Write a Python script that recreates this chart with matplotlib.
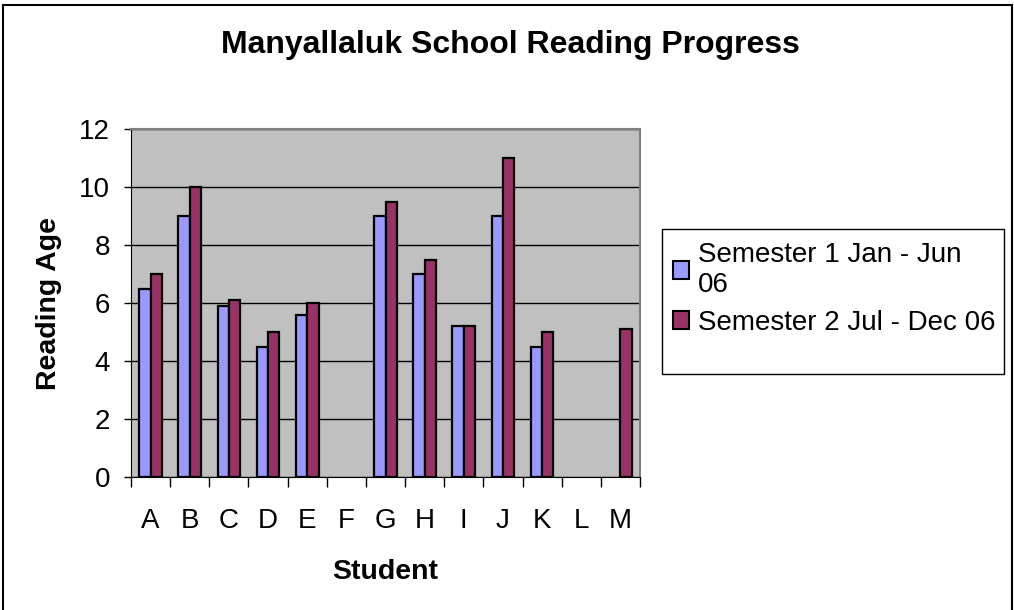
import numpy as np
import matplotlib
matplotlib.use('Agg')
import matplotlib.pyplot as plt
import matplotlib.patches as mpatches

plt.rcParams['font.family'] = ['Liberation Sans', 'DejaVu Sans']

# data
students = ['A', 'B', 'C', 'D', 'E', 'F', 'G', 'H', 'I', 'J', 'K', 'L', 'M']
sem1 = [6.5, 9.0, 5.9, 4.5, 5.6, np.nan, 9.0, 7.0, 5.2, 9.0, 4.5, np.nan, np.nan]
sem2 = [7.0, 10.0, 6.1, 5.0, 6.0, np.nan, 9.5, 7.5, 5.2, 11.0, 5.0, np.nan, 5.1]
sem1_label = 'Semester 1 Jan - Jun\n06'
sem2_label = 'Semester 2 Jul - Dec 06'

W, H = 1014, 610
fig = plt.figure(figsize=(W/100, H/100), dpi=100)
ax = fig.add_axes([131/W, 1-477/H, (640-131)/W, (477-129)/H])
ax.set_facecolor('#C0C0C0')

x = np.arange(len(students))
bw = 0.29
ax.bar(x - bw/2, sem1, bw, color='#9999FF', edgecolor='black', linewidth=1.6, zorder=3)
ax.bar(x + bw/2, sem2, bw, color='#993366', edgecolor='black', linewidth=1.6, zorder=3)

ax.set_xlim(-0.5, len(students) - 0.5)
ax.set_ylim(0, 12)
ax.set_yticks(range(0, 13, 2))
ax.yaxis.grid(True, color='black', linewidth=1, zorder=1)
ax.set_axisbelow(True)

# ticks at category boundaries, labels at centers
ax.set_xticks(np.arange(-0.5, len(students), 1))
ax.set_xticklabels([])
ax.set_xticks(x, minor=True)
ax.set_xticklabels(students, minor=True)
ax.tick_params(axis='x', which='major', length=7, width=1, color='black', direction='out')
ax.tick_params(axis='x', which='minor', length=0, pad=22, labelsize=20)
ax.tick_params(axis='y', length=5, width=1, direction='out', pad=10, labelsize=20)

for s in ['top', 'right']:
    ax.spines[s].set_color('#808080')
    ax.spines[s].set_linewidth(1.5)
ax.spines['left'].set_color('black')
ax.spines['bottom'].set_color('black')

ax.set_xlabel('Student', fontsize=20.5, fontweight='bold', labelpad=18)
ax.set_ylabel('Reading Age', fontsize=20.5, fontweight='bold', labelpad=12)

fig.text(510/W, 1-45/H, 'Manyallaluk School Reading Progress', ha='center', va='center',
         fontsize=23, fontweight='bold')

# legend box
fig.patches.append(mpatches.Rectangle((662/W, 1-374/H), (1004-662)/W, (374-229)/H,
                                      transform=fig.transFigure, fill=False,
                                      edgecolor='black', linewidth=1))
handles = [mpatches.Patch(facecolor='#9999FF', edgecolor='black', linewidth=1.5, label=sem1_label),
           mpatches.Patch(facecolor='#993366', edgecolor='black', linewidth=1.5, label=sem2_label)]
fig.legend(handles=handles, loc='upper left', bbox_to_anchor=(667/W, 1-236/H),
           frameon=False, fontsize=20, handlelength=0.6, handleheight=0.6,
           handletextpad=0.3, labelspacing=0.45, borderaxespad=0, borderpad=0.2)

# outer chart border
fig.patches.append(mpatches.Rectangle((3/W, -0.01), (1012-3)/W, 1.01 - 5/H,
                                      transform=fig.transFigure, fill=False,
                                      edgecolor='black', linewidth=1.5))

plt.savefig('out.png', dpi=100)
